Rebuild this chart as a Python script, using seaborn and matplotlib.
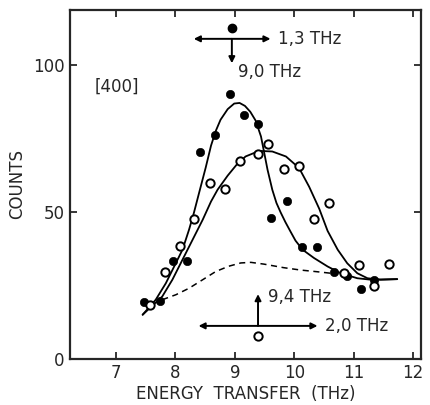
import numpy as np
import pandas as pd
import seaborn as sns
import matplotlib.pyplot as plt

filled_x = [7.47, 7.74, 7.96, 8.19, 8.41, 8.66, 8.92, 9.15, 9.39, 9.60, 9.87,
            10.13, 10.38, 10.66, 10.88, 11.13, 11.34]
filled_y = [19.2, 19.6, 33.3, 33.3, 70.4, 76.0, 90.0, 82.8, 80.0, 47.8, 53.6,
            38.0, 38.0, 29.5, 28.0, 23.7, 26.8]

open_x = [7.58, 7.82, 8.08, 8.31, 8.58, 8.83, 9.08, 9.39, 9.55, 9.82, 10.08,
          10.33, 10.58, 10.83, 11.08, 11.34, 11.59]
open_y = [18.2, 29.5, 38.5, 47.4, 59.8, 57.7, 67.3, 69.8, 72.9, 64.6, 65.6,
          47.4, 52.9, 29.2, 32.0, 24.7, 32.3]

# fitted curves (traced)
fitA_x = [7.45, 7.67, 7.84, 7.98, 8.12, 8.23, 8.31, 8.40, 8.51, 8.60, 8.68,
          8.76, 8.88, 8.99, 9.08, 9.17, 9.26, 9.35, 9.44, 9.49, 9.55, 9.63,
          9.70, 9.77, 9.85, 9.93, 10.02, 10.14, 10.33, 10.56, 10.78, 11.06,
          11.29, 11.73]
fitA_y = [15.0, 20.1, 25.7, 31.4, 37.1, 43.9, 49.5, 56.5, 65.0, 72.5, 77.5,
          81.3, 84.9, 86.8, 87.0, 86.0, 84.0, 81.0, 75.6, 70.5, 64.3, 57.5,
          53.0, 49.8, 46.5, 43.5, 40.2, 37.1, 34.3, 31.4, 29.1, 27.4,
          26.9, 27.1]

fitB_x = [7.45, 7.78, 7.95, 8.12, 8.29, 8.46, 8.60, 8.71, 8.88, 9.03, 9.18,
          9.41, 9.63, 9.86, 10.08, 10.25, 10.42, 10.56, 10.73, 10.89, 11.06,
          11.23, 11.45, 11.73]
fitB_y = [15.0, 21.2, 26.9, 33.7, 40.5, 47.3, 53.5, 57.5, 62.3, 66.0, 68.8,
          70.7, 70.5, 68.8, 64.9, 58.5, 51.0, 43.5, 37.1, 32.5, 29.1,
          27.4, 26.9, 27.1]

bg_x = [7.78, 8.01, 8.23, 8.46, 8.68, 8.90, 9.10, 9.27, 9.49, 9.82, 10.10,
        10.39, 10.66]
bg_y = [20.1, 21.8, 24.0, 26.9, 29.7, 31.5, 32.6, 32.8, 32.2, 31.0, 30.2,
        29.6, 29.0]

df_f = pd.DataFrame({'E': filled_x, 'N': filled_y})
df_o = pd.DataFrame({'E': open_x, 'N': open_y})

sns.set_style('ticks')
plt.rcParams['font.family'] = ['DejaVu Sans']

fig = plt.figure(figsize=(4.3, 4.05), dpi=100)
ax = fig.add_axes([0.163, 0.114, 0.816, 0.862])

sns.lineplot(x=fitA_x, y=fitA_y, sort=False, color='black', lw=1.3, ax=ax)
sns.lineplot(x=fitB_x, y=fitB_y, sort=False, color='black', lw=1.3, ax=ax)
sns.lineplot(x=bg_x, y=bg_y, sort=False, color='black', lw=1.1, ax=ax,
             linestyle=(0, (4, 3)))
sns.scatterplot(data=df_f, x='E', y='N', s=36, color='black',
                edgecolor='black', zorder=3, ax=ax)
sns.scatterplot(data=df_o, x='E', y='N', s=36, facecolor='white',
                edgecolor='black', linewidth=1.4, zorder=3, ax=ax)

# resolution markers
arr = dict(arrowstyle='<|-|>', color='black', lw=1.4, mutation_scale=9,
           shrinkA=0, shrinkB=0)
one = dict(arrowstyle='-|>', color='black', lw=1.4, mutation_scale=9,
           shrinkA=0, shrinkB=0)
ax.scatter([8.95], [112.5], s=36, color='black', zorder=3)
ax.annotate('', xy=(8.31, 108.8), xytext=(9.60, 108.8), arrowprops=arr)
ax.annotate('', xy=(8.95, 100.5), xytext=(8.95, 108.8), arrowprops=one)
ax.text(9.72, 108.8, '1,3 THz', fontsize=12, va='center', ha='left')
ax.text(9.06, 97.5, '9,0 THz', fontsize=12, va='center', ha='left')

ax.scatter([9.39], [7.8], s=36, facecolor='white', edgecolor='black',
           linewidth=1.4, zorder=3)
ax.annotate('', xy=(8.39, 11.2), xytext=(10.39, 11.2), arrowprops=arr)
ax.annotate('', xy=(9.39, 22.0), xytext=(9.39, 11.2), arrowprops=one)
ax.text(9.55, 21.0, '9,4 THz', fontsize=12, va='center', ha='left')
ax.text(10.52, 11.2, '2,0 THz', fontsize=12, va='center', ha='left')

ax.text(6.65, 92.5, '[400]', fontsize=12, va='center', ha='left')

ax.set_xlim(6.23, 12.13)
ax.set_ylim(0, 118.7)
ax.set_xticks([7, 8, 9, 10, 11, 12])
ax.set_yticks([0, 50, 100])
ax.tick_params(direction='in', length=5, width=1.3, top=True, right=True,
               labelsize=12, pad=4)
for sp in ax.spines.values():
    sp.set_linewidth(1.6)
ax.set_xlabel('ENERGY  TRANSFER  (THz)', fontsize=12, labelpad=2)
ax.set_ylabel('COUNTS', fontsize=12, labelpad=5)

fig.savefig('out.png', dpi=100)
